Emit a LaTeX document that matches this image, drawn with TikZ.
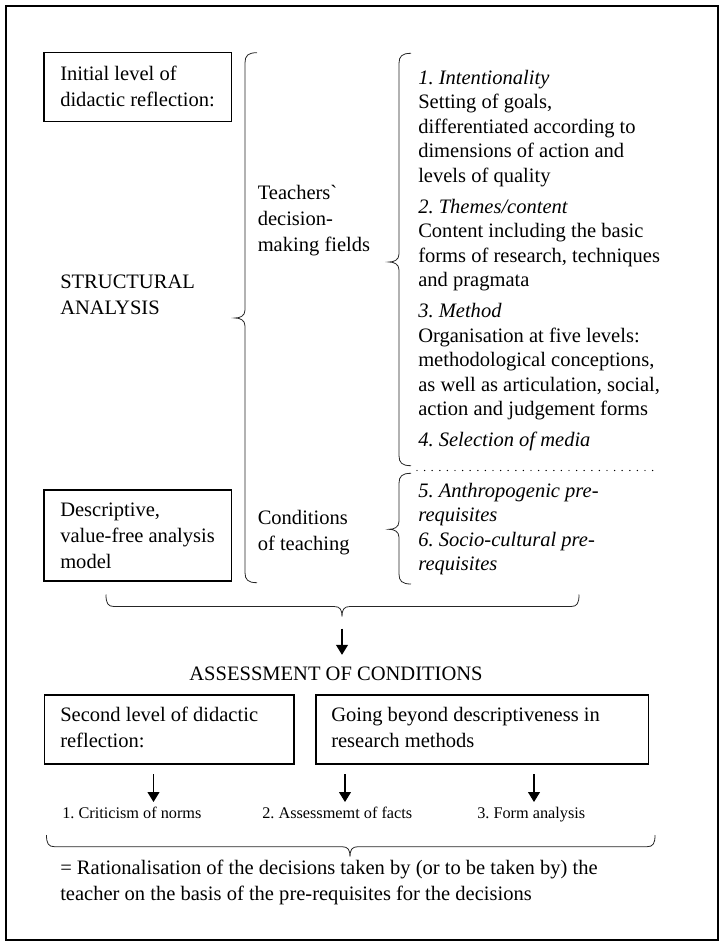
\documentclass[tikz,border=0pt]{standalone}
\usepackage{fontspec}
\setmainfont{Liberation Serif}[Ligatures=TeXOff]
\usetikzlibrary{arrows.meta,fit}
\frenchspacing
\newcommand{\mylines}[1]{\begin{tabular}[t]{@{}l@{}}#1\end{tabular}}
\newcommand{\myvbrace}[4]{\draw[brc] (#1+12,#2) .. controls (#1+3,#2) and (#1,#2+3) .. (#1,#2+10) -- (#1,#4-8) .. controls (#1,#4-2) and (#1-5,#4) .. (#1-10,#4) .. controls (#1-5,#4) and (#1,#4+2) .. (#1,#4+8) -- (#1,#3-10) .. controls (#1,#3-3) and (#1+3,#3) .. (#1+12,#3);}
\newcommand{\myhbrace}[5]{\draw[brc] (#1,#3) .. controls (#1,#4-3) and (#1+2,#4) .. (#1+8,#4) -- (#5-8,#4) .. controls (#5-2,#4) and (#5,#4+3) .. (#5,#4+10) .. controls (#5,#4+3) and (#5+2,#4) .. (#5+8,#4) -- (#2-8,#4) .. controls (#2-2,#4) and (#2,#4-3) .. (#2,#3);}
\begin{document}
\begin{tikzpicture}[x=0.75pt,y=-0.75pt,
  boxst/.style={draw, line width=0.8pt, inner sep=0pt},
  lft/.style={anchor=base west, inner sep=0pt, font=\fontsize{15.4}{19.5}\selectfont\frenchspacing},
  rgt/.style={anchor=base west, inner sep=0pt, font=\fontsize{15.4}{18.375}\selectfont\frenchspacing},
  lbl/.style={anchor=base west, inner sep=0pt, font=\fontsize{12.2}{14}\selectfont\frenchspacing},
  brc/.style={line width=0.6pt, black!85},
  arr/.style={line width=0.8pt, -{Triangle[length=7.5pt,width=9pt]}},
  dotln/.style={line width=1.1pt, line cap=round, dash pattern=on 0pt off 5.7pt}
]
\useasboundingbox (0,0) rectangle (723,945);
\draw[line width=1.5pt] (5.5,6.5) rectangle (717.5,939.5);

% boxes
\node[boxst, fit={(44,52.7)(231.5,121.5)}] (box1) {};
\node[lft] (box1t) at (60,80.5) {\mylines{Initial level of\\didactic reflection:}};
\node[boxst, fit={(44,490)(231.5,581)}] (box2) {};
\node[lft] (box2t) at (60,516) {\mylines{Descriptive,\\value-free analysis\\model}};

\node[lft] (struct) at (60,288) {\mylines{STRUCTURAL\\ANALYSIS}};
\node[lft] (teach) at (257.5,199.5) {\mylines{Teachers`\\decision-\\making fields}};
\node[lft] (cond) at (257.5,524.5) {\mylines{Conditions\\of teaching}};

\node[rgt] (fields) at (418,84.5) {\mylines{\textit{1. Intentionality}\\Setting of goals,\\differentiated according to\\dimensions of action and\\levels of quality\\[4.875pt]\textit{2. Themes/content}\\Content including the basic\\forms of research, techniques\\and pragmata\\[4.875pt]\textit{3. Method}\\Organisation at five levels:\\methodological conceptions,\\as well as articulation, social,\\action and judgement forms\\[4.875pt]\textit{4. Selection of media}}};
\node[rgt] (prereq) at (418,497) {\mylines{\textit{5. Anthropogenic pre-}\\\textit{requisites}\\\textit{6. Socio-cultural pre-}\\\textit{requisites}}};
\draw[dotln] (417,470.5) -- (660,470.5);

% braces
\myvbrace{245}{52.7}{582.7}{318}
\myvbrace{399}{53.3}{465.7}{262}
\myvbrace{399}{473.3}{584}{529.3}
\myhbrace{106}{579}{594.5}{606.5}{342}
\coordinate (tip1) at (342,616.5);

\node[lft, anchor=base] (assess) at (336,680) {ASSESSMENT OF CONDITIONS};
\draw[arr, shorten <=9pt, shorten >=8.5pt] (tip1) -- (tip1 |- assess.north);

\node[boxst, fit={(44.5,695)(294,764)}] (box3) {};
\node[lft] (box3t) at (60,721) {\mylines{Second level of didactic\\reflection:}};
\node[boxst, fit={(316,695)(648.5,764)}] (box4) {};
\node[lft] (box4t) at (331,721) {\mylines{Going beyond descriptiveness in\\research methods}};

\coordinate (c1s) at (153.5,774);
\coordinate (c1e) at (153.5,802);
\coordinate (c2s) at (345,774);
\coordinate (c2e) at (345,802);
\coordinate (c3s) at (534,774);
\coordinate (c3e) at (534,802);
\draw[arr] (c1s) -- (c1e);
\draw[arr] (c2s) -- (c2e);
\draw[arr] (c3s) -- (c3e);

\node[lbl] (lab1) at (62,818.5) {1. Criticism of norms};
\node[lbl] (lab2) at (262,818.5) {2. Assessmemt of facts};
\node[lbl] (lab3) at (477,818.5) {3. Form analysis};

\myhbrace{46.5}{655}{835}{846.7}{350}

\node[lft] (concl) at (60,874) {\mylines{= Rationalisation of the decisions taken by (or to be taken by) the\\teacher on the basis of the pre-requisites for the decisions}};
\end{tikzpicture}
\end{document}
